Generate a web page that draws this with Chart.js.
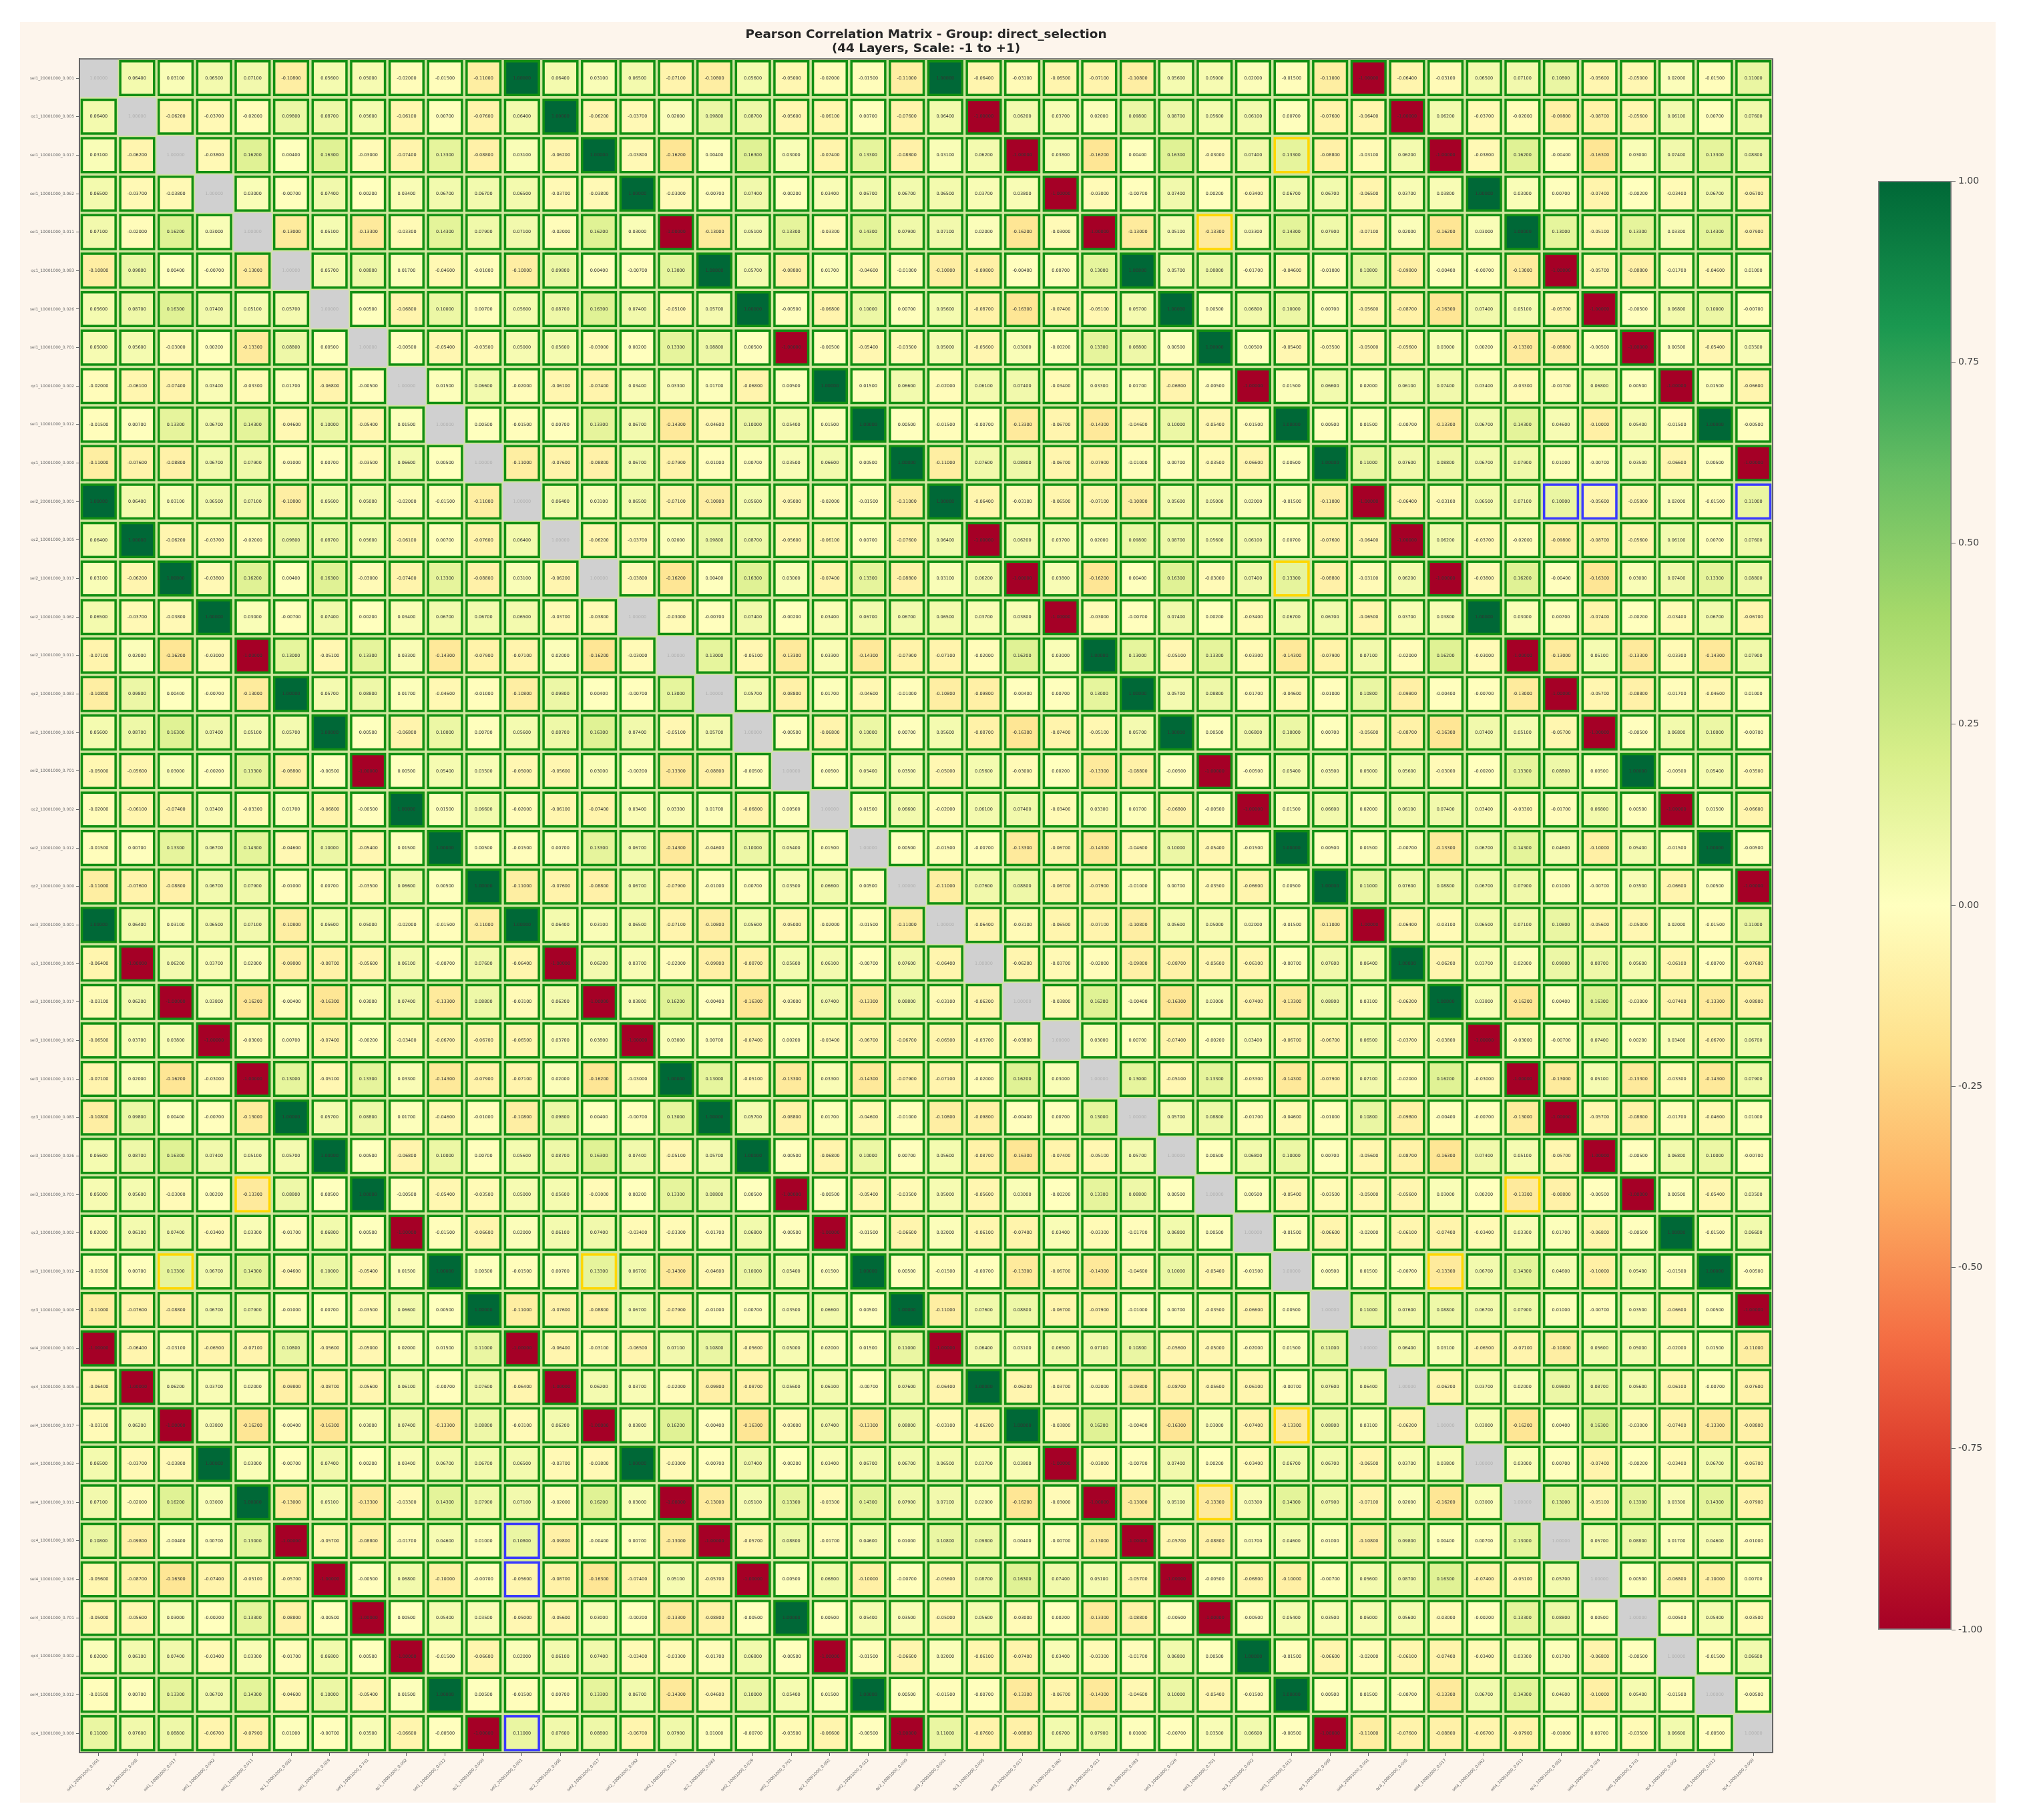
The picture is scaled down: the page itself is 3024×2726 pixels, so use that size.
<!DOCTYPE html>
<html>
<head>
<meta charset="utf-8">
<title>Pearson Correlation Matrix</title>
<script src="https://cdn.jsdelivr.net/npm/chart.js@4"></script>
<style>
  html, body { margin: 0; padding: 0; background: #ffffff; }
  #figure { position: absolute; left: 30px; top: 33px; width: 2959px; height: 2667px; background: #fdf5ec; }
  #matrix { position: absolute; left: 0; top: 0; }
  #colorbar { position: absolute; left: 2800px; top: 240px; }
</style>
</head>
<body>
<div id="figure"></div>
<canvas id="matrix" width="3024" height="2726"></canvas>
<canvas id="colorbar" width="224" height="2240"></canvas>
<script>
const titleLines = ['Pearson Correlation Matrix - Group: direct_selection', '(44 Layers, Scale: -1 to +1)'];

const layers = [
  'sel1_20001000_0.001', 'qc1_10001000_0.005', 'sel1_10001000_0.017', 'sel1_10001000_0.062', 'sel1_10001000_0.011', 'qc1_10001000_0.083', 'sel1_10001000_0.026', 'sel1_10001000_0.701', 'qc1_10001000_0.002', 'sel1_10001000_0.012', 'qc1_10001000_0.000',
  'sel2_20001000_0.001', 'qc2_10001000_0.005', 'sel2_10001000_0.017', 'sel2_10001000_0.062', 'sel2_10001000_0.011', 'qc2_10001000_0.083', 'sel2_10001000_0.026', 'sel2_10001000_0.701', 'qc2_10001000_0.002', 'sel2_10001000_0.012', 'qc2_10001000_0.000',
  'sel3_20001000_0.001', 'qc3_10001000_0.005', 'sel3_10001000_0.017', 'sel3_10001000_0.062', 'sel3_10001000_0.011', 'qc3_10001000_0.083', 'sel3_10001000_0.026', 'sel3_10001000_0.701', 'qc3_10001000_0.002', 'sel3_10001000_0.012', 'qc3_10001000_0.000',
  'sel4_20001000_0.001', 'qc4_10001000_0.005', 'sel4_10001000_0.017', 'sel4_10001000_0.062', 'sel4_10001000_0.011', 'qc4_10001000_0.083', 'sel4_10001000_0.026', 'sel4_10001000_0.701', 'qc4_10001000_0.002', 'sel4_10001000_0.012', 'qc4_10001000_0.000'
];

const corr = [
  [1,.064,.031,.065,.071,-.108,.056,.05,-.02,-.015,-.11,1,.064,.031,.065,-.071,-.108,.056,-.05,-.02,-.015,-.11,1,-.064,-.031,-.065,-.071,-.108,.056,.05,.02,-.015,-.11,-1,-.064,-.031,.065,.071,.108,-.056,-.05,.02,-.015,.11],
  [.064,1,-.062,-.037,-.02,.098,.087,.056,-.061,.007,-.076,.064,1,-.062,-.037,.02,.098,.087,-.056,-.061,.007,-.076,.064,-1,.062,.037,.02,.098,.087,.056,.061,.007,-.076,-.064,-1,.062,-.037,-.02,-.098,-.087,-.056,.061,.007,.076],
  [.031,-.062,1,-.038,.162,.004,.163,-.03,-.074,.133,-.088,.031,-.062,1,-.038,-.162,.004,.163,.03,-.074,.133,-.088,.031,.062,-1,.038,-.162,.004,.163,-.03,.074,.133,-.088,-.031,.062,-1,-.038,.162,-.004,-.163,.03,.074,.133,.088],
  [.065,-.037,-.038,1,.03,-.007,.074,.002,.034,.067,.067,.065,-.037,-.038,1,-.03,-.007,.074,-.002,.034,.067,.067,.065,.037,.038,-1,-.03,-.007,.074,.002,-.034,.067,.067,-.065,.037,.038,1,.03,.007,-.074,-.002,-.034,.067,-.067],
  [.071,-.02,.162,.03,1,-.13,.051,-.133,-.033,.143,.079,.071,-.02,.162,.03,-1,-.13,.051,.133,-.033,.143,.079,.071,.02,-.162,-.03,-1,-.13,.051,-.133,.033,.143,.079,-.071,.02,-.162,.03,1,.13,-.051,.133,.033,.143,-.079],
  [-.108,.098,.004,-.007,-.13,1,.057,.088,.017,-.046,-.01,-.108,.098,.004,-.007,.13,1,.057,-.088,.017,-.046,-.01,-.108,-.098,-.004,.007,.13,1,.057,.088,-.017,-.046,-.01,.108,-.098,-.004,-.007,-.13,-1,-.057,-.088,-.017,-.046,.01],
  [.056,.087,.163,.074,.051,.057,1,.005,-.068,.1,.007,.056,.087,.163,.074,-.051,.057,1,-.005,-.068,.1,.007,.056,-.087,-.163,-.074,-.051,.057,1,.005,.068,.1,.007,-.056,-.087,-.163,.074,.051,-.057,-1,-.005,.068,.1,-.007],
  [.05,.056,-.03,.002,-.133,.088,.005,1,-.005,-.054,-.035,.05,.056,-.03,.002,.133,.088,.005,-1,-.005,-.054,-.035,.05,-.056,.03,-.002,.133,.088,.005,1,.005,-.054,-.035,-.05,-.056,.03,.002,-.133,-.088,-.005,-1,.005,-.054,.035],
  [-.02,-.061,-.074,.034,-.033,.017,-.068,-.005,1,.015,.066,-.02,-.061,-.074,.034,.033,.017,-.068,.005,1,.015,.066,-.02,.061,.074,-.034,.033,.017,-.068,-.005,-1,.015,.066,.02,.061,.074,.034,-.033,-.017,.068,.005,-1,.015,-.066],
  [-.015,.007,.133,.067,.143,-.046,.1,-.054,.015,1,.005,-.015,.007,.133,.067,-.143,-.046,.1,.054,.015,1,.005,-.015,-.007,-.133,-.067,-.143,-.046,.1,-.054,-.015,1,.005,.015,-.007,-.133,.067,.143,.046,-.1,.054,-.015,1,-.005],
  [-.11,-.076,-.088,.067,.079,-.01,.007,-.035,.066,.005,1,-.11,-.076,-.088,.067,-.079,-.01,.007,.035,.066,.005,1,-.11,.076,.088,-.067,-.079,-.01,.007,-.035,-.066,.005,1,.11,.076,.088,.067,.079,.01,-.007,.035,-.066,.005,-1],

  [1,.064,.031,.065,.071,-.108,.056,.05,-.02,-.015,-.11,1,.064,.031,.065,-.071,-.108,.056,-.05,-.02,-.015,-.11,1,-.064,-.031,-.065,-.071,-.108,.056,.05,.02,-.015,-.11,-1,-.064,-.031,.065,.071,.108,-.056,-.05,.02,-.015,.11],
  [.064,1,-.062,-.037,-.02,.098,.087,.056,-.061,.007,-.076,.064,1,-.062,-.037,.02,.098,.087,-.056,-.061,.007,-.076,.064,-1,.062,.037,.02,.098,.087,.056,.061,.007,-.076,-.064,-1,.062,-.037,-.02,-.098,-.087,-.056,.061,.007,.076],
  [.031,-.062,1,-.038,.162,.004,.163,-.03,-.074,.133,-.088,.031,-.062,1,-.038,-.162,.004,.163,.03,-.074,.133,-.088,.031,.062,-1,.038,-.162,.004,.163,-.03,.074,.133,-.088,-.031,.062,-1,-.038,.162,-.004,-.163,.03,.074,.133,.088],
  [.065,-.037,-.038,1,.03,-.007,.074,.002,.034,.067,.067,.065,-.037,-.038,1,-.03,-.007,.074,-.002,.034,.067,.067,.065,.037,.038,-1,-.03,-.007,.074,.002,-.034,.067,.067,-.065,.037,.038,1,.03,.007,-.074,-.002,-.034,.067,-.067],
  [-.071,.02,-.162,-.03,-1,.13,-.051,.133,.033,-.143,-.079,-.071,.02,-.162,-.03,1,.13,-.051,-.133,.033,-.143,-.079,-.071,-.02,.162,.03,1,.13,-.051,.133,-.033,-.143,-.079,.071,-.02,.162,-.03,-1,-.13,.051,-.133,-.033,-.143,.079],
  [-.108,.098,.004,-.007,-.13,1,.057,.088,.017,-.046,-.01,-.108,.098,.004,-.007,.13,1,.057,-.088,.017,-.046,-.01,-.108,-.098,-.004,.007,.13,1,.057,.088,-.017,-.046,-.01,.108,-.098,-.004,-.007,-.13,-1,-.057,-.088,-.017,-.046,.01],
  [.056,.087,.163,.074,.051,.057,1,.005,-.068,.1,.007,.056,.087,.163,.074,-.051,.057,1,-.005,-.068,.1,.007,.056,-.087,-.163,-.074,-.051,.057,1,.005,.068,.1,.007,-.056,-.087,-.163,.074,.051,-.057,-1,-.005,.068,.1,-.007],
  [-.05,-.056,.03,-.002,.133,-.088,-.005,-1,.005,.054,.035,-.05,-.056,.03,-.002,-.133,-.088,-.005,1,.005,.054,.035,-.05,.056,-.03,.002,-.133,-.088,-.005,-1,-.005,.054,.035,.05,.056,-.03,-.002,.133,.088,.005,1,-.005,.054,-.035],
  [-.02,-.061,-.074,.034,-.033,.017,-.068,-.005,1,.015,.066,-.02,-.061,-.074,.034,.033,.017,-.068,.005,1,.015,.066,-.02,.061,.074,-.034,.033,.017,-.068,-.005,-1,.015,.066,.02,.061,.074,.034,-.033,-.017,.068,.005,-1,.015,-.066],
  [-.015,.007,.133,.067,.143,-.046,.1,-.054,.015,1,.005,-.015,.007,.133,.067,-.143,-.046,.1,.054,.015,1,.005,-.015,-.007,-.133,-.067,-.143,-.046,.1,-.054,-.015,1,.005,.015,-.007,-.133,.067,.143,.046,-.1,.054,-.015,1,-.005],
  [-.11,-.076,-.088,.067,.079,-.01,.007,-.035,.066,.005,1,-.11,-.076,-.088,.067,-.079,-.01,.007,.035,.066,.005,1,-.11,.076,.088,-.067,-.079,-.01,.007,-.035,-.066,.005,1,.11,.076,.088,.067,.079,.01,-.007,.035,-.066,.005,-1],

  [1,.064,.031,.065,.071,-.108,.056,.05,-.02,-.015,-.11,1,.064,.031,.065,-.071,-.108,.056,-.05,-.02,-.015,-.11,1,-.064,-.031,-.065,-.071,-.108,.056,.05,.02,-.015,-.11,-1,-.064,-.031,.065,.071,.108,-.056,-.05,.02,-.015,.11],
  [-.064,-1,.062,.037,.02,-.098,-.087,-.056,.061,-.007,.076,-.064,-1,.062,.037,-.02,-.098,-.087,.056,.061,-.007,.076,-.064,1,-.062,-.037,-.02,-.098,-.087,-.056,-.061,-.007,.076,.064,1,-.062,.037,.02,.098,.087,.056,-.061,-.007,-.076],
  [-.031,.062,-1,.038,-.162,-.004,-.163,.03,.074,-.133,.088,-.031,.062,-1,.038,.162,-.004,-.163,-.03,.074,-.133,.088,-.031,-.062,1,-.038,.162,-.004,-.163,.03,-.074,-.133,.088,.031,-.062,1,.038,-.162,.004,.163,-.03,-.074,-.133,-.088],
  [-.065,.037,.038,-1,-.03,.007,-.074,-.002,-.034,-.067,-.067,-.065,.037,.038,-1,.03,.007,-.074,.002,-.034,-.067,-.067,-.065,-.037,-.038,1,.03,.007,-.074,-.002,.034,-.067,-.067,.065,-.037,-.038,-1,-.03,-.007,.074,.002,.034,-.067,.067],
  [-.071,.02,-.162,-.03,-1,.13,-.051,.133,.033,-.143,-.079,-.071,.02,-.162,-.03,1,.13,-.051,-.133,.033,-.143,-.079,-.071,-.02,.162,.03,1,.13,-.051,.133,-.033,-.143,-.079,.071,-.02,.162,-.03,-1,-.13,.051,-.133,-.033,-.143,.079],
  [-.108,.098,.004,-.007,-.13,1,.057,.088,.017,-.046,-.01,-.108,.098,.004,-.007,.13,1,.057,-.088,.017,-.046,-.01,-.108,-.098,-.004,.007,.13,1,.057,.088,-.017,-.046,-.01,.108,-.098,-.004,-.007,-.13,-1,-.057,-.088,-.017,-.046,.01],
  [.056,.087,.163,.074,.051,.057,1,.005,-.068,.1,.007,.056,.087,.163,.074,-.051,.057,1,-.005,-.068,.1,.007,.056,-.087,-.163,-.074,-.051,.057,1,.005,.068,.1,.007,-.056,-.087,-.163,.074,.051,-.057,-1,-.005,.068,.1,-.007],
  [.05,.056,-.03,.002,-.133,.088,.005,1,-.005,-.054,-.035,.05,.056,-.03,.002,.133,.088,.005,-1,-.005,-.054,-.035,.05,-.056,.03,-.002,.133,.088,.005,1,.005,-.054,-.035,-.05,-.056,.03,.002,-.133,-.088,-.005,-1,.005,-.054,.035],
  [.02,.061,.074,-.034,.033,-.017,.068,.005,-1,-.015,-.066,.02,.061,.074,-.034,-.033,-.017,.068,-.005,-1,-.015,-.066,.02,-.061,-.074,.034,-.033,-.017,.068,.005,1,-.015,-.066,-.02,-.061,-.074,-.034,.033,.017,-.068,-.005,1,-.015,.066],
  [-.015,.007,.133,.067,.143,-.046,.1,-.054,.015,1,.005,-.015,.007,.133,.067,-.143,-.046,.1,.054,.015,1,.005,-.015,-.007,-.133,-.067,-.143,-.046,.1,-.054,-.015,1,.005,.015,-.007,-.133,.067,.143,.046,-.1,.054,-.015,1,-.005],
  [-.11,-.076,-.088,.067,.079,-.01,.007,-.035,.066,.005,1,-.11,-.076,-.088,.067,-.079,-.01,.007,.035,.066,.005,1,-.11,.076,.088,-.067,-.079,-.01,.007,-.035,-.066,.005,1,.11,.076,.088,.067,.079,.01,-.007,.035,-.066,.005,-1],

  [-1,-.064,-.031,-.065,-.071,.108,-.056,-.05,.02,.015,.11,-1,-.064,-.031,-.065,.071,.108,-.056,.05,.02,.015,.11,-1,.064,.031,.065,.071,.108,-.056,-.05,-.02,.015,.11,1,.064,.031,-.065,-.071,-.108,.056,.05,-.02,.015,-.11],
  [-.064,-1,.062,.037,.02,-.098,-.087,-.056,.061,-.007,.076,-.064,-1,.062,.037,-.02,-.098,-.087,.056,.061,-.007,.076,-.064,1,-.062,-.037,-.02,-.098,-.087,-.056,-.061,-.007,.076,.064,1,-.062,.037,.02,.098,.087,.056,-.061,-.007,-.076],
  [-.031,.062,-1,.038,-.162,-.004,-.163,.03,.074,-.133,.088,-.031,.062,-1,.038,.162,-.004,-.163,-.03,.074,-.133,.088,-.031,-.062,1,-.038,.162,-.004,-.163,.03,-.074,-.133,.088,.031,-.062,1,.038,-.162,.004,.163,-.03,-.074,-.133,-.088],
  [.065,-.037,-.038,1,.03,-.007,.074,.002,.034,.067,.067,.065,-.037,-.038,1,-.03,-.007,.074,-.002,.034,.067,.067,.065,.037,.038,-1,-.03,-.007,.074,.002,-.034,.067,.067,-.065,.037,.038,1,.03,.007,-.074,-.002,-.034,.067,-.067],
  [.071,-.02,.162,.03,1,-.13,.051,-.133,-.033,.143,.079,.071,-.02,.162,.03,-1,-.13,.051,.133,-.033,.143,.079,.071,.02,-.162,-.03,-1,-.13,.051,-.133,.033,.143,.079,-.071,.02,-.162,.03,1,.13,-.051,.133,.033,.143,-.079],
  [.108,-.098,-.004,.007,.13,-1,-.057,-.088,-.017,.046,.01,.108,-.098,-.004,.007,-.13,-1,-.057,.088,-.017,.046,.01,.108,.098,.004,-.007,-.13,-1,-.057,-.088,.017,.046,.01,-.108,.098,.004,.007,.13,1,.057,.088,.017,.046,-.01],
  [-.056,-.087,-.163,-.074,-.051,-.057,-1,-.005,.068,-.1,-.007,-.056,-.087,-.163,-.074,.051,-.057,-1,.005,.068,-.1,-.007,-.056,.087,.163,.074,.051,-.057,-1,-.005,-.068,-.1,-.007,.056,.087,.163,-.074,-.051,.057,1,.005,-.068,-.1,.007],
  [-.05,-.056,.03,-.002,.133,-.088,-.005,-1,.005,.054,.035,-.05,-.056,.03,-.002,-.133,-.088,-.005,1,.005,.054,.035,-.05,.056,-.03,.002,-.133,-.088,-.005,-1,-.005,.054,.035,.05,.056,-.03,-.002,.133,.088,.005,1,-.005,.054,-.035],
  [.02,.061,.074,-.034,.033,-.017,.068,.005,-1,-.015,-.066,.02,.061,.074,-.034,-.033,-.017,.068,-.005,-1,-.015,-.066,.02,-.061,-.074,.034,-.033,-.017,.068,.005,1,-.015,-.066,-.02,-.061,-.074,-.034,.033,.017,-.068,-.005,1,-.015,.066],
  [-.015,.007,.133,.067,.143,-.046,.1,-.054,.015,1,.005,-.015,.007,.133,.067,-.143,-.046,.1,.054,.015,1,.005,-.015,-.007,-.133,-.067,-.143,-.046,.1,-.054,-.015,1,.005,.015,-.007,-.133,.067,.143,.046,-.1,.054,-.015,1,-.005],
  [.11,.076,.088,-.067,-.079,.01,-.007,.035,-.066,-.005,-1,.11,.076,.088,-.067,.079,.01,-.007,-.035,-.066,-.005,-1,.11,-.076,-.088,.067,.079,.01,-.007,.035,.066,-.005,-1,-.11,-.076,-.088,-.067,-.079,-.01,.007,-.035,.066,-.005,1]
];

// cells with a different edge colour in the reference
const blueCells = [[11, 38], [11, 39], [11, 43], [38, 11], [39, 11], [43, 11]];
const goldCells = [[2, 31], [31, 2], [13, 31], [31, 13], [35, 31], [31, 35], [4, 29], [29, 4], [37, 29], [29, 37]];

const colorbarTicks = [-1, -0.75, -0.5, -0.25, 0, 0.25, 0.5, 0.75, 1];

const rdYlGn = [[165, 0, 38], [215, 48, 39], [244, 109, 67], [253, 174, 97], [254, 224, 139], [255, 255, 191], [217, 239, 139], [166, 217, 106], [102, 189, 99], [26, 152, 80], [0, 104, 55]];

function cellColor(v) {
  const t = (v + 1) * 5;
  const i = Math.min(Math.floor(t), 9);
  const f = t - i;
  const c = rdYlGn[i].map((a, k) => Math.round(a + (rdYlGn[i + 1][k] - a) * f));
  return 'rgb(' + c.join(',') + ')';
}

function inList(list, r, c) {
  return list.some(p => p[0] === r && p[1] === c);
}

Chart.defaults.font.family = '"DejaVu Sans", sans-serif';
Chart.defaults.animation = false;

const points = [];
corr.forEach((row, r) => {
  row.forEach((v, c) => {
    points.push({x: layers[c], y: layers[r], v: v, r: r, c: c});
  });
});

const cellText = {
  id: 'cellText',
  beforeDatasetsDraw(chart) {
    const a = chart.chartArea;
    chart.ctx.fillStyle = '#cfe59c';
    chart.ctx.fillRect(a.left, a.top, a.width, a.height);
  },
  afterDatasetsDraw(chart) {
    const ctx = chart.ctx;
    const els = chart.getDatasetMeta(0).data;
    ctx.save();
    ctx.font = '6.5px "DejaVu Sans"';
    ctx.textAlign = 'center';
    ctx.textBaseline = 'middle';
    els.forEach((el, i) => {
      const p = points[i];
      ctx.fillStyle = p.r === p.c ? '#b0b0b0' : '#333333';
      ctx.fillText(p.v.toFixed(5), el.x, el.y);
    });
    const a = chart.chartArea;
    ctx.strokeStyle = '#666666';
    ctx.lineWidth = 2;
    ctx.strokeRect(a.left, a.top, a.width, a.height);
    ctx.restore();
  }
};

new Chart(document.getElementById('matrix'), {
  type: 'scatter',
  data: {
    datasets: [{
      data: points,
      clip: false,
      pointStyle: 'rect',
      pointRadius(c) {
        const cell = c.chart.scales.x.width / layers.length;
        const side = c.raw.r === c.raw.c ? cell : cell - 7;
        return side * Math.SQRT1_2;
      },
      pointBackgroundColor(c) {
        return c.raw.r === c.raw.c ? '#d0d0d0' : cellColor(c.raw.v);
      },
      pointBorderWidth(c) {
        return c.raw.r === c.raw.c ? 0 : 3.5;
      },
      pointBorderColor(c) {
        if (inList(blueCells, c.raw.r, c.raw.c)) return '#3a3aff';
        if (inList(goldCells, c.raw.r, c.raw.c)) return '#ffd700';
        return '#128f12';
      }
    }]
  },
  options: {
    responsive: false,
    events: [],
    layout: {padding: {left: 0, right: 369, top: 0, bottom: 0}},
    plugins: {
      legend: {display: false},
      tooltip: {enabled: false},
      title: {
        display: true,
        text: titleLines,
        fullSize: false,
        color: '#262626',
        font: {size: 18.4, weight: 'bold', lineHeight: 1.12},
        padding: {top: 42, bottom: 5}
      }
    },
    scales: {
      x: {
        type: 'category',
        labels: layers,
        offset: true,
        afterFit(s) { s.height = 101; },
        border: {color: '#666666', width: 2},
        grid: {drawOnChartArea: false, drawTicks: true, tickLength: 5, color: '#666666'},
        ticks: {autoSkip: false, minRotation: 45, maxRotation: 45, padding: 3, color: '#666666', font: {size: 6}}
      },
      y: {
        type: 'category',
        labels: layers,
        offset: true,
        afterFit(s) { s.width = 119; },
        border: {color: '#666666', width: 2},
        grid: {drawOnChartArea: false, drawTicks: true, tickLength: 5, color: '#666666'},
        ticks: {autoSkip: false, padding: 3, color: '#666666', font: {size: 6}}
      }
    }
  },
  plugins: [cellText]
});

new Chart(document.getElementById('colorbar'), {
  type: 'bar',
  data: {
    labels: [''],
    datasets: [{
      data: [[-1, 1]],
      barPercentage: 1,
      categoryPercentage: 1,
      borderWidth: 2,
      borderColor: '#808080',
      borderSkipped: false,
      backgroundColor(c) {
        const a = c.chart.chartArea;
        if (!a) return '#ffffbf';
        const g = c.chart.ctx.createLinearGradient(0, a.bottom, 0, a.top);
        rdYlGn.forEach((s, i) => g.addColorStop(i / 10, 'rgb(' + s.join(',') + ')'));
        return g;
      }
    }]
  },
  options: {
    responsive: false,
    events: [],
    layout: {padding: {left: 13, right: 0, top: 31, bottom: 39}},
    plugins: {legend: {display: false}, tooltip: {enabled: false}},
    scales: {
      x: {display: false},
      y: {
        position: 'right',
        min: -1,
        max: 1,
        afterFit(s) { s.width = 101; },
        afterBuildTicks(s) { s.ticks = colorbarTicks.map(v => ({value: v})); },
        border: {display: false},
        grid: {drawOnChartArea: false, drawTicks: true, tickLength: 6, color: '#666666'},
        ticks: {padding: 4, color: '#444444', font: {size: 14}, callback: v => v.toFixed(2)}
      }
    }
  }
});
</script>
</body>
</html>
